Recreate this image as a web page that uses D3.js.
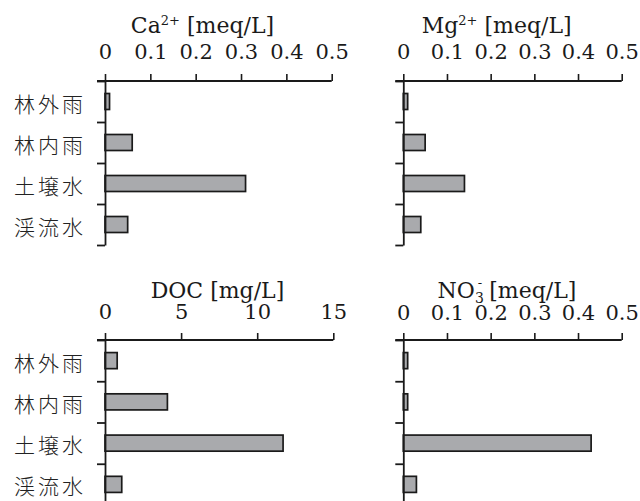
<!DOCTYPE html>
<html>
<head>
<meta charset="utf-8">
<script src="https://cdn.jsdelivr.net/npm/d3@7"></script>
<style>
  html, body { margin: 0; padding: 0; background: #fff; }
  svg { display: block; }
</style>
</head>
<body>
<script>
// data
const categories = ['林外雨', '林内雨', '土壌水', '渓流水'];
const caValues = [0.01, 0.06, 0.31, 0.05];
const mgValues = [0.01, 0.05, 0.14, 0.04];
const docValues = [0.8, 4.1, 11.7, 1.1];
const no3Values = [0.01, 0.01, 0.43, 0.03];
const meqTicks = [0, 0.1, 0.2, 0.3, 0.4, 0.5];
const docTicks = [0, 5, 10, 15];

const width = 640, height = 501;
const latin = '"DejaVu Serif", "Liberation Serif", serif';
const cjk = '"Noto Sans CJK JP", "Noto Sans CJK SC", sans-serif';
const ink = '#1a1a1a';

const svg = d3.select('body').append('svg')
  .attr('width', width)
  .attr('height', height);

// title pieces: [text, kind] where kind is '', 'sup', 'sub', 'subsup'
const panels = [
  { values: caValues, ticks: meqTicks, max: 0.5, title: [['Ca', ''], ['2+', 'sup'], [' [meq/L]', '']],
    x0: 105, x1: 331.7, y0: 81, y1: 245, tickBase: 22.5, titleBase: 48, titleX: 202.5, labels: true },
  { values: mgValues, ticks: meqTicks, max: 0.5, title: [['Mg', ''], ['2+', 'sup'], [' [meq/L]', '']],
    x0: 403.3, x1: 621.7, y0: 81, y1: 245, tickBase: 22.3, titleBase: 47.7, titleX: 496.7, labels: false },
  { values: docValues, ticks: docTicks, max: 15, title: [['DOC [mg/L]', '']],
    x0: 105, x1: 333.3, y0: 340, y1: 505, tickBase: 20.7, titleBase: 41.7, titleX: 217.5, labels: true },
  { values: no3Values, ticks: meqTicks, max: 0.5, title: [['NO', ''], ['3', 'sub'], ['-', 'subsup'], [' [meq/L]', '']],
    x0: 403.3, x1: 621.7, y0: 340, y1: 505, tickBase: 20.3, titleBase: 41.7, titleX: 507, labels: false }
];

panels.forEach(p => {
  const x = d3.scaleLinear().domain([0, p.max]).range([p.x0, p.x1]);
  const yBand = d3.scaleBand().domain(categories).range([p.y0, p.y1])
    .paddingInner(0.61).paddingOuter(0.305);
  const yEdge = d3.scaleLinear().domain([0, categories.length]).range([p.y0, p.y1]);

  const g = svg.append('g');

  // bars
  g.selectAll('rect.bar')
    .data(p.values)
    .join('rect')
    .attr('class', 'bar')
    .attr('x', x(0))
    .attr('y', (d, i) => yBand(categories[i]))
    .attr('width', d => x(d) - x(0))
    .attr('height', yBand.bandwidth())
    .style('fill', '#a9aaad')
    .style('stroke', ink)
    .style('stroke-width', '1.7px');

  // category axis: ticks pointing left at band edges
  const yAxis = g.append('g')
    .attr('transform', `translate(${x(0)},0)`)
    .call(d3.axisLeft(yEdge)
      .tickValues(d3.range(categories.length + 1))
      .tickSize(8)
      .tickSizeOuter(0)
      .tickFormat(''));
  yAxis.selectAll('path, line').style('stroke', ink).style('stroke-width', '1.8px');

  // value axis on top
  const xAxis = g.append('g')
    .attr('transform', `translate(0,${p.y0})`)
    .call(d3.axisTop(x)
      .tickValues(p.ticks)
      .tickSize(7)
      .tickSizeOuter(0)
      .tickPadding(p.tickBase - 7)
      .tickFormat(d => d === 0 ? '0' : String(d)));
  xAxis.select('.domain').remove();
  xAxis.selectAll('line').style('stroke', ink).style('stroke-width', '1.6px');
  xAxis.selectAll('text')
    .style('font-family', latin)
    .style('font-size', '21px')
    .style('fill', ink);
  g.append('line')
    .attr('x1', x(0) - 8)
    .attr('x2', x(p.max))
    .attr('y1', p.y0)
    .attr('y2', p.y0)
    .style('stroke', ink)
    .style('stroke-width', '1.8px');

  // title
  const t = g.append('text')
    .attr('x', p.titleX)
    .attr('y', p.y0 - p.titleBase)
    .attr('text-anchor', 'middle')
    .style('font-family', latin)
    .style('font-size', '22px')
    .style('fill', ink);
  let shift = 0;
  p.title.forEach(([s, kind]) => {
    const span = t.append('tspan').text(s);
    let target = 0;
    if (kind === 'sup') { target = -8; span.style('font-size', '13px'); }
    if (kind === 'sub') { target = 5; span.style('font-size', '14px'); }
    if (kind === 'subsup') { target = -11; span.style('font-size', '13px').attr('dx', -6); }
    span.attr('dy', target - shift);
    shift = target;
  });

  // category labels
  if (p.labels) {
    g.selectAll('text.cat')
      .data(categories)
      .join('text')
      .attr('class', 'cat')
      .attr('x', 86)
      .attr('y', d => yBand(d) + yBand.bandwidth() / 2 + 1)
      .attr('text-anchor', 'end')
      .attr('dominant-baseline', 'central')
      .style('font-family', cjk)
      .style('font-size', '21px')
      .style('font-weight', '300')
      .style('letter-spacing', '3px')
      .style('fill', '#222')
      .text(d => d);
  }
});
</script>
</body>
</html>
